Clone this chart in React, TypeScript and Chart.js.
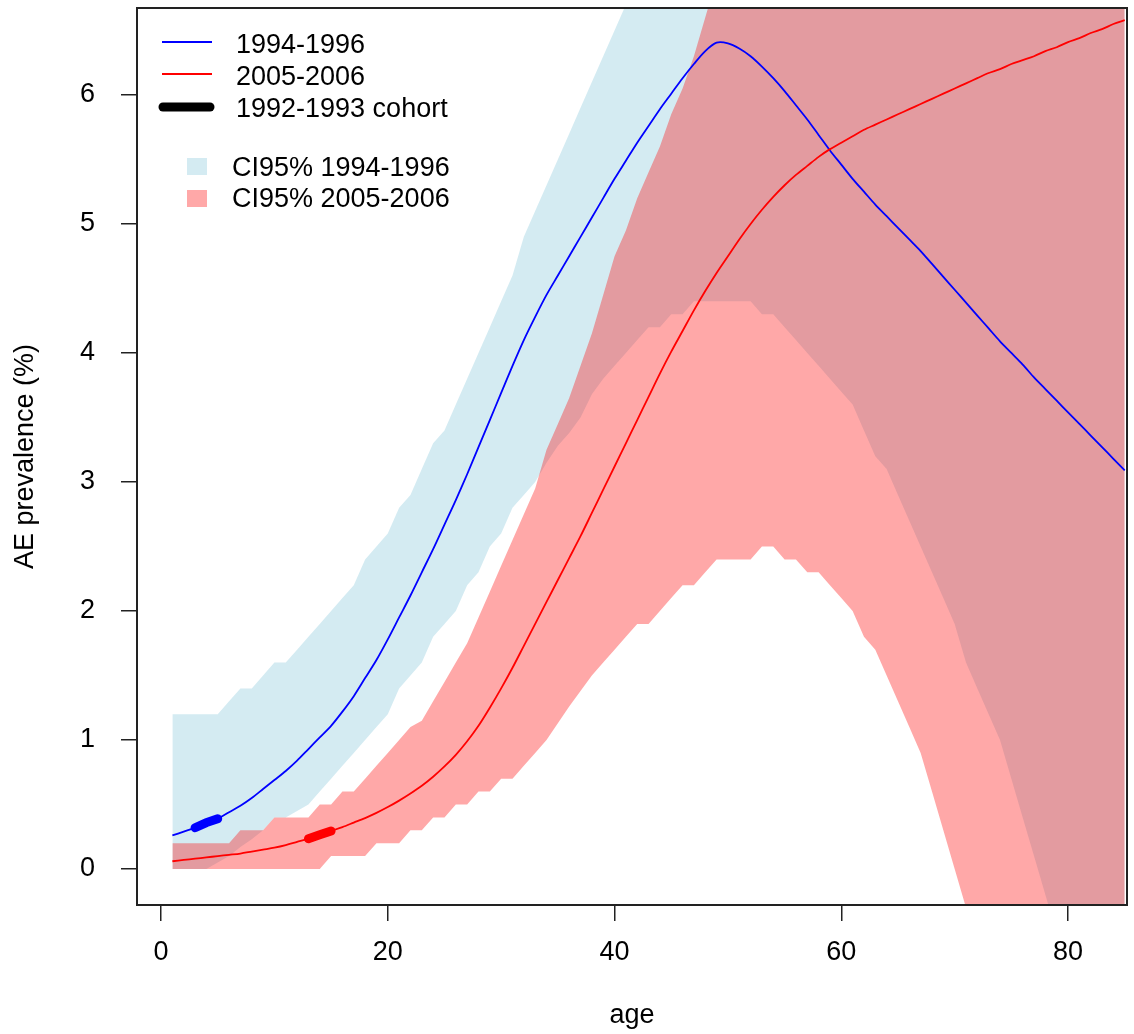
import React, { useEffect, useRef } from 'react';
import { Chart, registerables } from 'chart.js';

Chart.register(...registerables);

const FONT = "'Liberation Sans', Arial, Helvetica, sans-serif";

const AGES = [
  1, 2, 3, 4, 5, 6, 7, 8, 9, 10,
  11, 12, 13, 14, 15, 16, 17, 18, 19, 20,
  21, 22, 23, 24, 25, 26, 27, 28, 29, 30,
  31, 32, 33, 34, 35, 36, 37, 38, 39, 40,
  41, 42, 43, 44, 45, 46, 47, 48, 49, 50,
  51, 52, 53, 54, 55, 56, 57, 58, 59, 60,
  61, 62, 63, 64, 65, 66, 67, 68, 69, 70,
  71, 72, 73, 74, 75, 76, 77, 78, 79, 80,
  81, 82, 83, 84, 85,
];

// fitted prevalence 1994-1996 (blue)
const BLUE_FIT = [
  0.26, 0.29, 0.32, 0.36, 0.39, 0.44, 0.49, 0.55, 0.62, 0.69,
  0.76, 0.84, 0.93, 1.02, 1.11, 1.22, 1.34, 1.48, 1.62, 1.78,
  1.95, 2.12, 2.3, 2.48, 2.67, 2.86, 3.06, 3.27, 3.48, 3.69,
  3.9, 4.1, 4.28, 4.45, 4.6, 4.75, 4.9, 5.05, 5.2, 5.35,
  5.49, 5.63, 5.76, 5.89, 6.01, 6.13, 6.24, 6.34, 6.405, 6.4,
  6.36, 6.3, 6.22, 6.13, 6.03, 5.92, 5.81, 5.69, 5.57, 5.46,
  5.35, 5.25, 5.15, 5.06, 4.97, 4.88, 4.79, 4.69, 4.59, 4.49,
  4.39, 4.29, 4.19, 4.09, 4.0, 3.91, 3.81, 3.72, 3.63, 3.54,
  3.45, 3.36, 3.27, 3.18, 3.09,
];

// fitted prevalence 2005-2006 (red)
const RED_FIT = [
  0.06, 0.07, 0.08, 0.09, 0.1, 0.11, 0.12, 0.135, 0.15, 0.165,
  0.185, 0.21, 0.235, 0.265, 0.295, 0.325, 0.36, 0.395, 0.435, 0.48,
  0.53, 0.585, 0.645, 0.715, 0.795, 0.885, 0.99, 1.11, 1.25, 1.4,
  1.56, 1.73, 1.9, 2.07, 2.24, 2.41, 2.58, 2.76, 2.94, 3.12,
  3.3, 3.48, 3.66, 3.84, 4.01, 4.17, 4.33, 4.48, 4.62, 4.75,
  4.88, 5.0, 5.11, 5.21, 5.3, 5.38, 5.45, 5.52, 5.58, 5.63,
  5.68, 5.73, 5.77, 5.81, 5.85, 5.89, 5.93, 5.97, 6.01, 6.05,
  6.09, 6.13, 6.17, 6.2, 6.24, 6.27, 6.3, 6.34, 6.37, 6.41,
  6.44, 6.48, 6.51, 6.55, 6.58,
];

// CI95% 1994-1996
const BLUE_LO = [
  0, 0, 0, 0, 0.05, 0.1, 0.17, 0.23, 0.3, 0.4,
  0.4, 0.45, 0.5, 0.6, 0.7, 0.8, 0.9, 1.0, 1.1, 1.2,
  1.4, 1.5, 1.6, 1.8, 1.9, 2.0, 2.2, 2.3, 2.5, 2.6,
  2.8, 2.9, 3.0, 3.15, 3.28, 3.38, 3.5, 3.68, 3.8, 3.9,
  4.0, 4.1, 4.2, 4.2, 4.3, 4.3, 4.4, 4.4, 4.4, 4.4,
  4.4, 4.4, 4.3, 4.3, 4.2, 4.1, 4.0, 3.9, 3.8, 3.7,
  3.6, 3.4, 3.2, 3.1, 2.9, 2.7, 2.5, 2.3, 2.1, 1.9,
  1.6, 1.4, 1.2, 1.0, 0.7, 0.4, 0.1, -0.2, -0.5, -0.8,
  -1.1, -1.4, -1.7, -2.0, -2.3,
];
const BLUE_HI = [
  1.2, 1.2, 1.2, 1.2, 1.2, 1.3, 1.4, 1.4, 1.5, 1.6,
  1.6, 1.7, 1.8, 1.9, 2.0, 2.1, 2.2, 2.4, 2.5, 2.6,
  2.8, 2.9, 3.1, 3.3, 3.4, 3.6, 3.8, 4.0, 4.2, 4.4,
  4.6, 4.9, 5.1, 5.3, 5.5, 5.7, 5.9, 6.1, 6.3, 6.5,
  6.7, 6.9, 7.1, 7.3, 7.5, 7.7, 7.9, 8.0, 8.1, 8.2,
  8.2, 8.2, 8.1, 8.1, 8.0, 8.0, 7.9, 7.9, 7.8, 7.8,
  7.7, 7.7, 7.6, 7.6, 7.5, 7.5, 7.5, 7.4, 7.4, 7.4,
  7.3, 7.3, 7.3, 7.3, 7.2, 7.2, 7.2, 7.2, 7.2, 7.1,
  7.1, 7.1, 7.1, 7.1, 7.1,
];

// CI95% 2005-2006
const RED_LO = [
  0, 0, 0, 0, 0, 0, 0, 0, 0, 0,
  0, 0, 0, 0, 0.1, 0.1, 0.1, 0.1, 0.2, 0.2,
  0.2, 0.3, 0.3, 0.4, 0.4, 0.5, 0.5, 0.6, 0.6, 0.7,
  0.7, 0.8, 0.9, 1.0, 1.13, 1.26, 1.38, 1.5, 1.6, 1.7,
  1.8, 1.9, 1.9, 2.0, 2.1, 2.2, 2.2, 2.3, 2.4, 2.4,
  2.4, 2.4, 2.5, 2.5, 2.4, 2.4, 2.3, 2.3, 2.2, 2.1,
  2.0, 1.8, 1.7, 1.5, 1.3, 1.1, 0.9, 0.6, 0.3, 0.0,
  -0.3, -0.6, -0.9, -1.2, -1.5, -1.8, -2.1, -2.4, -2.7, -3.0,
  -3.3, -3.6, -3.9, -4.2, -4.5,
];
const RED_HI = [
  0.2, 0.2, 0.2, 0.2, 0.2, 0.2, 0.3, 0.3, 0.3, 0.4,
  0.4, 0.4, 0.4, 0.5, 0.5, 0.6, 0.6, 0.7, 0.8, 0.9,
  1.0, 1.1, 1.15, 1.3, 1.45, 1.6, 1.75, 1.95, 2.15, 2.35,
  2.55, 2.75, 2.95, 3.25, 3.45, 3.65, 3.9, 4.15, 4.45, 4.75,
  4.95, 5.2, 5.4, 5.6, 5.85, 6.05, 6.3, 6.6, 6.9, 7.2,
  7.5, 7.8, 8.0, 8.2, 8.4, 8.6, 8.8, 9.0, 9.2, 9.4,
  9.6, 9.8, 10.0, 10.2, 10.4, 10.6, 10.8, 11.0, 11.2, 11.4,
  11.6, 11.8, 12.0, 12.2, 12.4, 12.6, 12.8, 13.0, 13.2, 13.4,
  13.6, 13.8, 14.0, 14.2, 14.4,
];

// ages observed by the 1992-1993 cohort in each survey
const BLUE_COHORT_AGES = [3, 4, 5];
const RED_COHORT_AGES = [13, 14, 15];

const X_TICKS = [0, 20, 40, 60, 80];
const Y_TICKS = [0, 1, 2, 3, 4, 5, 6];

const LINE_LABELS = ['1994-1996', '2005-2006', '1992-1993 cohort'];
const BAND_LABELS = ['CI95% 1994-1996', 'CI95% 2005-2006'];

const X_TITLE = 'age';
const Y_TITLE = 'AE prevalence (%)';

const BLUE_BAND = 'rgba(173,216,230,0.52)';
const RED_BAND = 'rgba(255,0,0,0.34)';

const pts = (ys: number[]) => AGES.map((a, i) => ({ x: a, y: ys[i] }));
const cohortPts = (ages: number[], fit: number[]) =>
  ages.map((a) => ({ x: a, y: fit[AGES.indexOf(a)] }));

const decorPlugin = {
  id: 'decor',
  afterDraw(chart: any) {
    const { ctx, chartArea: a } = chart;
    ctx.save();
    // plot box
    ctx.strokeStyle = '#222';
    ctx.lineWidth = 2;
    ctx.strokeRect(a.left, a.top, a.right - a.left, a.bottom - a.top);

    ctx.fillStyle = '#000';
    ctx.font = `27px ${FONT}`;
    ctx.textBaseline = 'alphabetic';
    ctx.textAlign = 'center';
    ctx.fillText(X_TITLE, (a.left + a.right) / 2, 1023);
    ctx.save();
    ctx.translate(33, (a.top + a.bottom) / 2);
    ctx.rotate(-Math.PI / 2);
    ctx.fillText(Y_TITLE, 0, 0);
    ctx.restore();

    // legend
    ctx.textAlign = 'left';
    ctx.lineCap = 'butt';
    ctx.strokeStyle = '#0000ff';
    ctx.lineWidth = 1.8;
    ctx.beginPath();
    ctx.moveTo(162, 42);
    ctx.lineTo(212, 42);
    ctx.stroke();
    ctx.strokeStyle = '#ff0000';
    ctx.beginPath();
    ctx.moveTo(162, 74);
    ctx.lineTo(212, 74);
    ctx.stroke();
    ctx.strokeStyle = '#000';
    ctx.lineWidth = 9;
    ctx.lineCap = 'round';
    ctx.beginPath();
    ctx.moveTo(163, 107);
    ctx.lineTo(210, 107);
    ctx.stroke();

    ctx.fillStyle = '#000';
    ctx.fillText(LINE_LABELS[0], 236, 53);
    ctx.fillText(LINE_LABELS[1], 236, 85);
    ctx.fillText(LINE_LABELS[2], 236, 117);

    ctx.fillStyle = BLUE_BAND;
    ctx.fillRect(187, 158, 20, 17);
    ctx.fillStyle = RED_BAND;
    ctx.fillRect(187, 190, 20, 17);
    ctx.fillStyle = '#000';
    ctx.fillText(BAND_LABELS[0], 232, 176);
    ctx.fillText(BAND_LABELS[1], 232, 207);
    ctx.restore();
  },
};

export default function App() {
  const ref = useRef<HTMLCanvasElement | null>(null);

  useEffect(() => {
    if (!ref.current) return;
    const band = (data: number[], fill: any, color: string, order: number) => ({
      data: pts(data),
      borderWidth: 0,
      pointRadius: 0,
      fill,
      backgroundColor: color,
      tension: 0,
      order,
    });
    const curve = (data: any[], color: string, width: number, order: number, extra: any = {}) => ({
      data,
      borderColor: color,
      borderWidth: width,
      pointRadius: 0,
      fill: false,
      tension: 0.3,
      order,
      ...extra,
    });
    const chart = new Chart(ref.current, {
      type: 'line',
      data: {
        datasets: [
          band(BLUE_LO, false, BLUE_BAND, 8),
          band(BLUE_HI, '-1', BLUE_BAND, 7),
          band(RED_LO, false, RED_BAND, 6),
          band(RED_HI, '-1', RED_BAND, 5),
          curve(pts(BLUE_FIT), '#0000ff', 1.8, 4),
          curve(pts(RED_FIT), '#ff0000', 1.8, 3),
          curve(cohortPts(BLUE_COHORT_AGES, BLUE_FIT), '#0000ff', 9, 2, { borderCapStyle: 'round', tension: 0 }),
          curve(cohortPts(RED_COHORT_AGES, RED_FIT), '#ff0000', 9, 1, { borderCapStyle: 'round', tension: 0 }),
        ],
      } as any,
      options: {
        responsive: false,
        animation: false,
        devicePixelRatio: 1,
        events: [],
        layout: { padding: { left: 0, top: 8, right: 7, bottom: 0 } },
        plugins: {
          legend: { display: false },
          tooltip: { enabled: false },
          title: { display: false },
        },
        scales: {
          x: {
            type: 'linear',
            min: -2.12,
            max: 85.2,
            afterBuildTicks: (axis: any) => {
              axis.ticks = X_TICKS.map((v) => ({ value: v }));
            },
            afterFit: (axis: any) => {
              axis.height = 129;
              axis.paddingLeft = 0;
              axis.paddingRight = 0;
            },
            ticks: {
              font: { family: FONT, size: 27 },
              color: '#000',
              padding: 15,
              maxRotation: 0,
              autoSkip: false,
            },
            grid: {
              drawOnChartArea: false,
              drawTicks: true,
              tickLength: 16,
              color: '#222',
              lineWidth: 1.5,
            },
            border: { display: false },
          },
          y: {
            type: 'linear',
            min: -0.279,
            max: 6.674,
            afterBuildTicks: (axis: any) => {
              axis.ticks = Y_TICKS.map((v) => ({ value: v }));
            },
            afterFit: (axis: any) => {
              axis.width = 137;
              axis.paddingTop = 0;
              axis.paddingBottom = 0;
            },
            ticks: {
              font: { family: FONT, size: 27 },
              color: '#000',
              padding: 26,
              autoSkip: false,
            },
            grid: {
              drawOnChartArea: false,
              drawTicks: true,
              tickLength: 16,
              color: '#222',
              lineWidth: 1.5,
            },
            border: { display: false },
          },
        },
      } as any,
      plugins: [decorPlugin],
    });
    return () => chart.destroy();
  }, []);

  return (
    <div style={{ position: 'fixed', left: 0, top: 0, width: 1134, height: 1034, background: '#fff' }}>
      <canvas ref={ref} width={1134} height={1034} style={{ width: 1134, height: 1034, display: 'block' }} />
    </div>
  );
}
